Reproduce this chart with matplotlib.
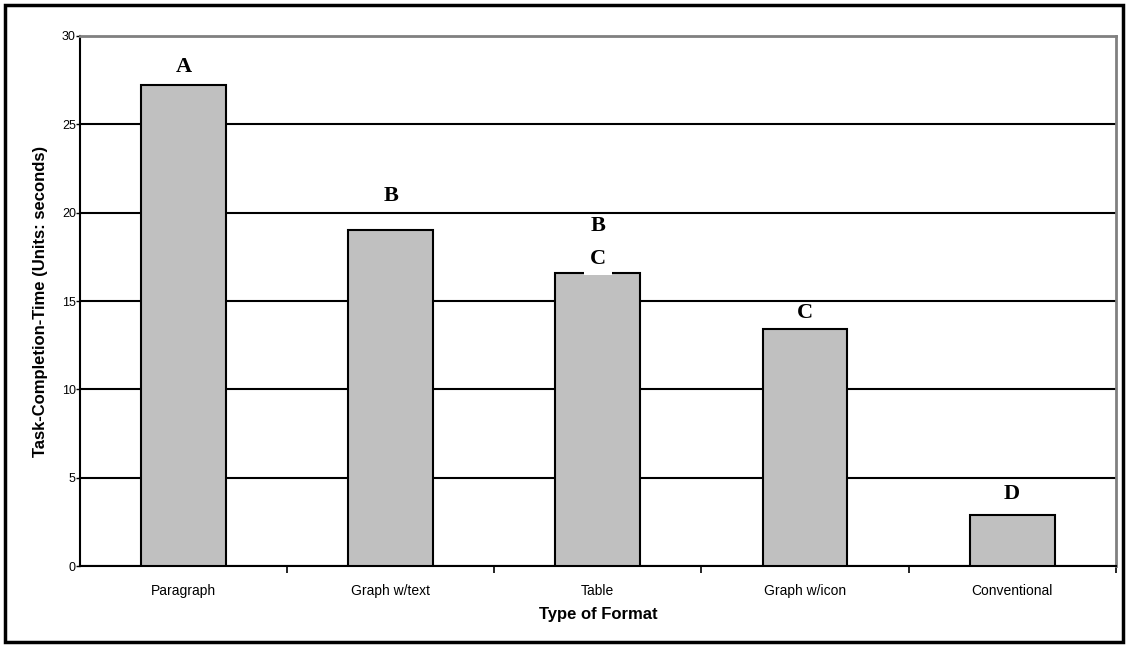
import matplotlib.pyplot as plt
from matplotlib.patches import Rectangle

formats = ["Paragraph", "Graph w/text", "Table", "Graph w/icon", "Conventional"]
times = [27.2, 19.0, 16.6, 13.4, 2.9]
groups = [["A"], ["B"], ["C", "B"], ["C"], ["D"]]
# label offsets above bar top, in points
offsets = [[13], [25], [10, 34], [11.5], [15]]

fig = plt.figure(figsize=(11.27, 6.47), dpi=100)
ax = fig.add_axes([0.071, 0.125, 0.919, 0.8195])

x = range(len(formats))
ax.bar(x, times, width=0.41, color="#c0c0c0", edgecolor="black", linewidth=1.5, zorder=3)

ax.set_xlim(-0.5, len(formats) - 0.5)
ax.set_ylim(0, 30)
ax.set_yticks(range(0, 31, 5))
ax.yaxis.grid(True, color="black", linewidth=1.5, zorder=1)
ax.set_axisbelow(True)

# group letters above the bars (stacked when a bar belongs to two groups)
for i, (t, letters, offs) in enumerate(zip(times, groups, offsets)):
    for k, (letter, off) in enumerate(zip(letters, offs)):
        box = None
        if len(letters) > 1 and k == 0:
            box = dict(facecolor="white", edgecolor="none", pad=4.5)
        ax.annotate(letter, (i, t), xytext=(0, off), textcoords="offset points",
                    ha="center", va="center", fontsize=16, fontweight="bold",
                    family="Liberation Serif", zorder=4, bbox=box)

ax.set_xticks(list(x))
ax.set_xticklabels(formats, fontsize=10, family="Liberation Sans")
ax.set_xticks([i + 0.5 for i in range(len(formats))], minor=True)
ax.tick_params(axis="x", which="major", length=0, pad=13)
ax.tick_params(axis="x", which="minor", length=5, width=1.2, direction="out")
ax.tick_params(axis="y", length=3, width=1, pad=0, labelsize=9)
for lab in ax.get_yticklabels():
    lab.set_family("Liberation Sans")

for side in ["top", "right"]:
    ax.spines[side].set_color("#808080")
    ax.spines[side].set_linewidth(2)
for side in ["left", "bottom"]:
    ax.spines[side].set_color("black")
    ax.spines[side].set_linewidth(1.5)

ax.set_xlabel("Type of Format", fontsize=12, fontweight="bold", family="Liberation Sans", labelpad=6)
ax.set_ylabel("Task-Completion-Time (Units: seconds)", fontsize=12, fontweight="bold",
              family="Liberation Sans", labelpad=10)

# outer frame around the whole chart
fig.patches.append(Rectangle((5 / 1127, 5 / 647), 1118 / 1127, 637 / 647, transform=fig.transFigure,
                             fill=False, edgecolor="black", linewidth=2.5))

fig.savefig("out.png", dpi=100)
